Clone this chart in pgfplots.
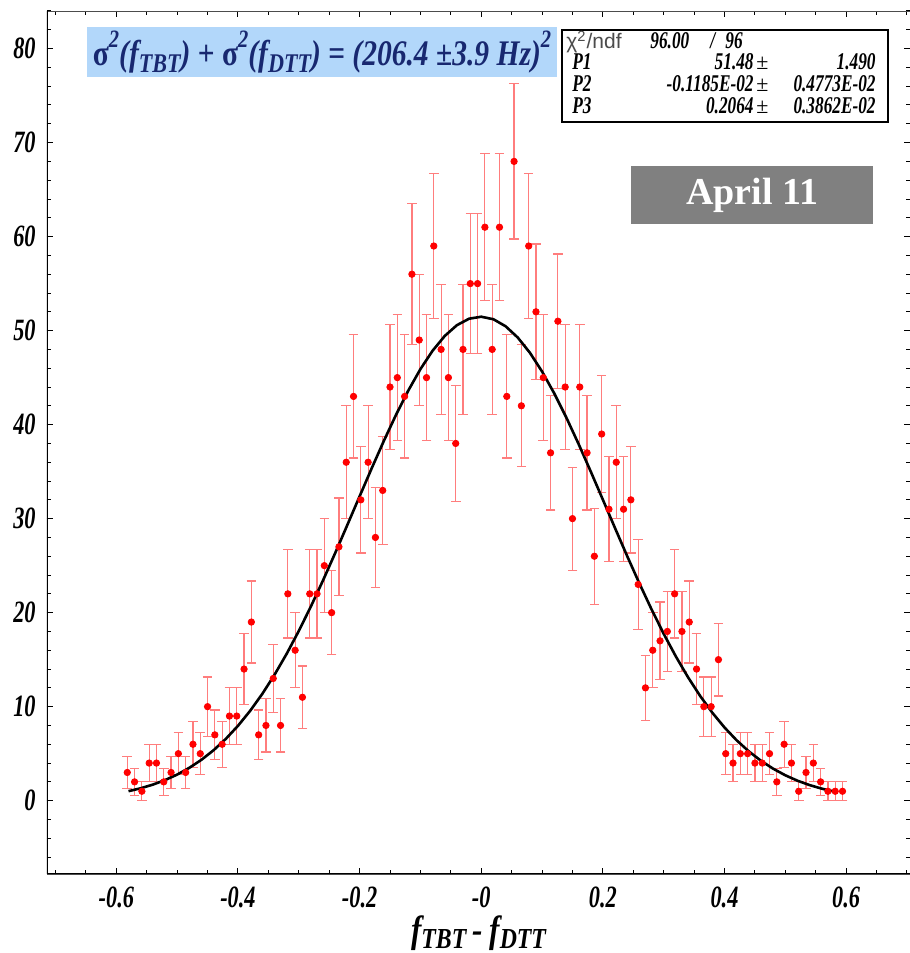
\documentclass[border=0pt]{standalone}
\usepackage{fontspec}
\setmainfont{Liberation Serif}
\newfontfamily\condfont[FakeStretch=0.72]{Liberation Serif}
\newfontfamily\titlefont[FakeStretch=0.82]{Liberation Serif}
\newfontfamily\statsans{Liberation Sans}
\usepackage{pgfplots}
\usepackage{pgfplotstable}
\pgfplotsset{compat=1.18}

\definecolor{ptred}{RGB}{255,0,0}
\definecolor{errred}{RGB}{255,125,125}
\definecolor{titlebg}{RGB}{178,215,250}
\definecolor{titleblue}{RGB}{24,40,112}
\definecolor{aprgray}{RGB}{128,128,128}

\newcommand{\tsub}[1]{\raisebox{-0.45ex}{\fontsize{13.5}{13.5}\selectfont #1}}
\newcommand{\tsup}[1]{\raisebox{1.05ex}{\fontsize{12.5}{12.5}\selectfont #1}}
\newcommand{\xsub}[1]{\raisebox{-0.35ex}{\fontsize{14.5}{14.5}\selectfont #1}}

% histogram: bin centre, counts, sqrt(counts)
\pgfplotstableread{
x y err
-0.582 3 1.732
-0.570 2 1.414
-0.558 1 1.000
-0.546 4 2.000
-0.534 4 2.000
-0.522 2 1.414
-0.510 3 1.732
-0.498 5 2.236
-0.486 3 1.732
-0.474 6 2.449
-0.462 5 2.236
-0.450 10 3.162
-0.438 7 2.646
-0.426 6 2.449
-0.414 9 3.000
-0.402 9 3.000
-0.390 14 3.742
-0.378 19 4.359
-0.366 7 2.646
-0.354 8 2.828
-0.342 13 3.606
-0.330 8 2.828
-0.318 22 4.690
-0.306 16 4.000
-0.294 11 3.317
-0.282 22 4.690
-0.270 22 4.690
-0.258 25 5.000
-0.246 20 4.472
-0.234 27 5.196
-0.222 36 6.000
-0.210 43 6.557
-0.198 32 5.657
-0.186 36 6.000
-0.174 28 5.292
-0.162 33 5.745
-0.150 44 6.633
-0.138 45 6.708
-0.126 43 6.557
-0.114 56 7.483
-0.102 49 7.000
-0.090 45 6.708
-0.078 59 7.681
-0.066 48 6.928
-0.054 45 6.708
-0.042 38 6.164
-0.030 48 6.928
-0.018 55 7.416
-0.006 55 7.416
0.006 61 7.810
0.018 48 6.928
0.030 61 7.810
0.042 43 6.557
0.054 68 8.246
0.066 42 6.481
0.078 59 7.681
0.090 52 7.211
0.102 45 6.708
0.114 37 6.083
0.126 51 7.141
0.138 44 6.633
0.150 30 5.477
0.162 44 6.633
0.174 37 6.083
0.186 26 5.099
0.198 39 6.245
0.210 31 5.568
0.222 36 6.000
0.234 31 5.568
0.246 32 5.657
0.258 23 4.796
0.270 12 3.464
0.282 16 4.000
0.294 17 4.123
0.306 18 4.243
0.318 22 4.690
0.330 18 4.243
0.342 19 4.359
0.354 14 3.742
0.366 10 3.162
0.378 10 3.162
0.390 15 3.873
0.402 5 2.236
0.414 4 2.000
0.426 5 2.236
0.438 5 2.236
0.450 4 2.000
0.462 4 2.000
0.474 5 2.236
0.486 2 1.414
0.498 6 2.449
0.510 4 2.000
0.522 1 1.000
0.534 3 1.732
0.546 4 2.000
0.558 2 1.414
0.570 1 1.000
0.582 1 1.000
0.594 1 1.000
}\histdata

% fitted gaussian, tabulated
\pgfplotstableread{
x y
-0.58 1.009
-0.56 1.318
-0.54 1.706
-0.52 2.186
-0.50 2.776
-0.48 3.492
-0.46 4.351
-0.44 5.372
-0.42 6.571
-0.40 7.961
-0.38 9.555
-0.36 11.360
-0.34 13.382
-0.32 15.616
-0.30 18.052
-0.28 20.673
-0.26 23.454
-0.24 26.361
-0.22 29.351
-0.20 32.372
-0.18 35.374
-0.16 38.290
-0.14 41.062
-0.12 43.619
-0.10 45.906
-0.08 47.861
-0.06 49.433
-0.04 50.579
-0.02 51.267
0.00 51.479
0.02 51.209
0.04 50.465
0.06 49.266
0.08 47.646
0.10 45.649
0.12 43.328
0.14 40.739
0.16 37.947
0.18 35.018
0.20 32.013
0.22 28.989
0.24 26.008
0.26 23.114
0.28 20.351
0.30 17.749
0.32 15.337
0.34 13.129
0.36 11.132
0.38 9.353
0.40 7.783
0.42 6.417
0.44 5.241
0.46 4.241
0.48 3.400
0.50 2.699
0.52 2.123
0.54 1.654
0.56 1.277
0.58 0.977
}\fitdata

\begin{document}
\begin{tikzpicture}
\path[use as bounding box] (0,0) rectangle (455pt,476.5pt);
\begin{axis}[
  at={(23.5pt,39.5pt)}, anchor=south west,
  scale only axis, width=431.5pt, height=431.5pt,
  xmin=-0.714, xmax=0.705, ymin=-7.8, ymax=84,
  xtick={-0.6,-0.4,-0.2,0,0.2,0.4,0.6},
  xticklabels={-0.6,-0.4,-0.2,-0,0.2,0.4,0.6},
  minor xtick={-0.7,-0.65,...,0.71},
  ytick={0,10,20,30,40,50,60,70,80},
  yticklabels={0,10,20,30,40,50,60,70,80},
  minor ytick={-6,-4,...,84},
  tick align=inside,
  major tick length=3pt, minor tick length=2pt,
  tick style={black, line width=0.5pt},
  axis line style={black!70, line width=0.4pt},
  ticklabel style={font=\condfont\bfseries\itshape\fontsize{15.5}{16}\selectfont},
  xticklabel style={anchor=north, inner sep=0pt, yshift=-6pt},
  yticklabel style={anchor=east, inner sep=0pt, xshift=-5.5pt},
  xlabel={\titlefont\bfseries\itshape\fontsize{19}{19}\selectfont f\xsub{TBT}\,-\,f\xsub{DTT}},
  xlabel style={anchor=north, inner sep=0pt, at={(axis description cs:0.5,0)}, yshift=-20.5pt},
]
\addplot[only marks, mark=*, mark size=1.6pt, color=ptred,
  error bars/.cd, y dir=both, y explicit,
  error bar style={errred, line width=0.6pt},
  error mark options={errred, line width=0.6pt, mark size=2.4pt, rotate=90}]
  table[x=x, y=y, y error=err] {\histdata};
\addplot[black, line width=1.3pt] table[x=x, y=y] {\fitdata};
\draw[black, line width=1pt] (rel axis cs:0,1) -- (rel axis cs:0,0) -- (rel axis cs:1,0);
\end{axis}

% fit result banner
\node[fill=titlebg, text=titleblue, minimum width=235pt, minimum height=25pt, inner sep=0pt]
  at (161pt,450.5pt)
  {\titlefont\bfseries\itshape\fontsize{18}{18}\selectfont
   \textup{σ}\tsup{2}(f\tsub{TBT}) \textup{+} \textup{σ}\tsup{2}(f\tsub{DTT}) \textup{=} (206.4 ±3.9 Hz)\tsup{2}};

% statistics box
\draw[black, line width=1.1pt, fill=white] (281pt,415.5pt) rectangle (444pt,461.5pt);
\begin{scope}[every node/.style={inner sep=0pt, font=\condfont\bfseries\itshape\fontsize{12}{12}\selectfont}]
\node[anchor=base west, font=\statsans\fontsize{10.5}{10.5}\selectfont, text=black!70] at (283pt,452pt) {χ\textsuperscript{2}/ndf};
\node[anchor=base west] at (325pt,452pt) {96.00};
\node[anchor=base west] at (355pt,452pt) {/};
\node[anchor=base west] at (362.5pt,452pt) {96};
\node[anchor=base west] at (286pt,441.5pt) {P1};
\node[anchor=base east] at (377pt,441.5pt) {51.48};
\node[anchor=base west, font=\fontsize{11}{11}\selectfont] at (378pt,441.5pt) {±};
\node[anchor=base east] at (438pt,441.5pt) {1.490};
\node[anchor=base west] at (286pt,430.5pt) {P2};
\node[anchor=base east] at (377pt,430.5pt) {-0.1185E-02};
\node[anchor=base west, font=\fontsize{11}{11}\selectfont] at (378pt,430.5pt) {±};
\node[anchor=base east] at (438pt,430.5pt) {0.4773E-02};
\node[anchor=base west] at (286pt,419.5pt) {P3};
\node[anchor=base east] at (377pt,419.5pt) {0.2064};
\node[anchor=base west, font=\fontsize{11}{11}\selectfont] at (378pt,419.5pt) {±};
\node[anchor=base east] at (438pt,419.5pt) {0.3862E-02};
\end{scope}

% date label
\node[fill=aprgray, text=white, minimum width=121pt, minimum height=29pt, inner sep=0pt,
  font=\bfseries\fontsize{19}{19}\selectfont] at (376pt,379pt) {April 11};
\end{tikzpicture}
\end{document}
